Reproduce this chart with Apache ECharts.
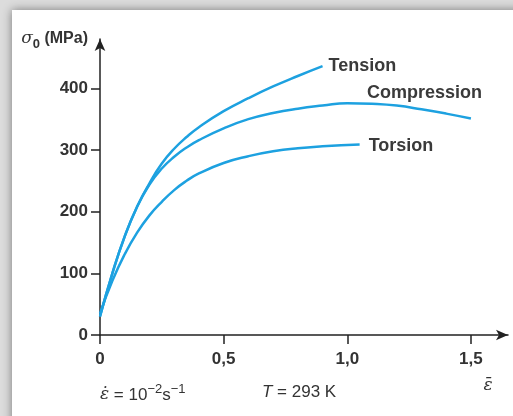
<!doctype html>
<html>
	<head>
		<meta charset="utf-8">
		<title>Fließkurven</title>
		<script type="text/javascript" src="https://cdn.jsdelivr.net/npm/echarts@6/dist/echarts.min.js"></script>
		<style>
			body { margin: 0; padding: 0; background: #dcdcdc; overflow: hidden; }
			#card { position: absolute; left: 12px; top: 10px; width: 540px; height: 440px; background: #fff; box-shadow: 0 0 9px rgba(0,0,0,0.45); }
			#tb { position: absolute; left: 0; top: 0; width: 513px; height: 416px; }
		</style>
	</head>

	<body>
		<div id="card"></div>
		<div id="tb"></div>
		<script>
			// Werte: [Umformgrad, Fließspannung MPa]
			var tensionData = [[0, 30], [0.05, 100], [0.1, 160], [0.15, 208], [0.2, 246], [0.25, 278], [0.3, 302], [0.35, 321], [0.4, 337], [0.5, 363], [0.6, 384], [0.7, 403], [0.8, 420], [0.9, 436]];
			var compressionData = [[0, 30], [0.05, 100], [0.1, 160], [0.15, 208], [0.2, 244], [0.25, 270], [0.3, 289], [0.35, 304], [0.4, 316], [0.5, 335], [0.6, 350], [0.7, 360], [0.8, 367], [0.9, 372], [1.0, 376], [1.1, 375], [1.2, 372], [1.3, 366], [1.4, 359], [1.5, 351]];
			var torsionData = [[0, 35], [0.05, 88], [0.1, 131], [0.15, 166], [0.2, 194], [0.25, 216], [0.3, 235], [0.35, 250], [0.4, 262], [0.5, 279], [0.6, 290], [0.7, 298], [0.8, 303], [0.9, 306], [1.05, 309]];
			var seriesNames = ['Tension', 'Compression', 'Torsion'];
			var xTicks = [0, 0.5, 1.0, 1.5];
			var yTicks = [0, 100, 200, 300, 400];

			var blue = '#1da1e0';
			var ink = '#333';
			var sans = 'Liberation Sans, Arial, sans-serif';
			var tickFont = {color: ink, fontSize: 17, fontWeight: 'bold', fontFamily: sans};
			var nameFont = {color: '#3a3a3a', fontSize: 18, fontWeight: 'bold', fontFamily: sans};

			var bt = document.getElementById('tb');
			var btchart = echarts.init(bt);

			function curve(name, data, label) {
				return {
					name: name,
					type: 'line',
					data: data,
					smooth: 0.5,
					symbol: 'none',
					lineStyle: {color: blue, width: 2.5},
					endLabel: Object.assign({show: true, formatter: name, distance: 6}, nameFont, label || {})
				};
			}

			btchart.setOption({
				animation: false,
				grid: {left: 100, right: 5, top: 39, bottom: 81},
				xAxis: {
					type: 'value',
					min: 0,
					max: 1.65,
					name: 'ε\u0304',
					nameLocation: 'end',
					nameGap: -20,
					nameTextStyle: {fontFamily: 'DejaVu Serif', fontStyle: 'italic', fontSize: 17, color: ink, align: 'center', verticalAlign: 'top', padding: [42, 0, 0, 0]},
					splitLine: {show: false},
					axisLine: {lineStyle: {color: '#222', width: 1.5}, symbol: ['none', 'arrow'], symbolSize: [8, 12]},
					axisTick: {length: 9, lineStyle: {color: '#222', width: 1.5}, customValues: xTicks},
					axisLabel: Object.assign({margin: 16, customValues: xTicks, formatter: function(v) {
						return v === 0 ? '0' : v.toFixed(1).replace('.', ',');
					}}, tickFont)
				},
				yAxis: {
					type: 'value',
					min: 0,
					max: 480,
					name: '{s|σ}{sub|0}{t| (MPa)}',
					nameLocation: 'end',
					nameGap: 0,
					nameTextStyle: {
						align: 'right', verticalAlign: 'middle', padding: [0, 12, 0, 0],
						rich: {
							s: {fontFamily: 'DejaVu Serif', fontStyle: 'italic', fontSize: 17, color: ink, lineHeight: 24, verticalAlign: 'middle'},
							sub: {fontFamily: sans, fontSize: 13, fontWeight: 'bold', color: ink, lineHeight: 24, verticalAlign: 'bottom'},
							t: {fontFamily: sans, fontSize: 16, fontWeight: 'bold', color: ink, lineHeight: 24, verticalAlign: 'middle'}
						}
					},
					splitLine: {show: false},
					axisLine: {lineStyle: {color: '#222', width: 1.5}, symbol: ['none', 'arrow'], symbolSize: [8, 12]},
					axisTick: {length: 9, lineStyle: {color: '#222', width: 1.5}, customValues: yTicks},
					axisLabel: Object.assign({margin: 12, customValues: yTicks}, tickFont)
				},
				series: [
					curve(seriesNames[0], tensionData),
					curve(seriesNames[1], compressionData, {align: 'right', offset: [5, -26]}),
					curve(seriesNames[2], torsionData, {distance: 9, offset: [0, 2]})
				],
				graphic: [
					{type: 'text', left: 100, top: 383, style: {
						text: '{e|ε̇}{t| = 10}{sup|−2}{t|s}{sup|−1}',
						rich: {
							e: {fontFamily: 'DejaVu Serif', fontStyle: 'italic', fontSize: 17, fill: ink, lineHeight: 24, verticalAlign: 'middle'},
							t: {fontFamily: sans, fontSize: 17, fill: ink, lineHeight: 24, verticalAlign: 'middle'},
							sup: {fontFamily: sans, fontSize: 13, fill: ink, lineHeight: 24, verticalAlign: 'top'}
						}
					}},
					{type: 'text', left: 262, top: 384, style: {
						text: '{i|T}{t| = 293 K}',
						rich: {
							i: {fontFamily: sans, fontStyle: 'italic', fontSize: 17, fill: ink, lineHeight: 24},
							t: {fontFamily: sans, fontSize: 17, fill: ink, lineHeight: 24}
						}
					}}
				]
			});
		</script>
	</body>
</html>
